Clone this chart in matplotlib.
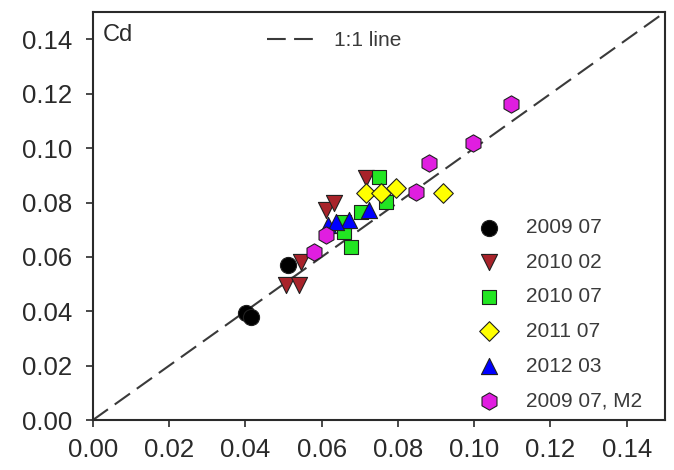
import numpy as np
import matplotlib
matplotlib.use('Agg')
import matplotlib.pyplot as plt

plt.rcParams['font.family'] = ['Liberation Sans', 'DejaVu Sans']

# Cd: x vs y for each sampling campaign
x_2009_07 = [0.0401, 0.0414, 0.0511]
y_2009_07 = [0.0394, 0.0380, 0.0571]

x_2010_02 = [0.0506, 0.0540, 0.0545, 0.0612, 0.0632, 0.0717]
y_2010_02 = [0.0497, 0.0497, 0.0580, 0.0774, 0.0800, 0.0892]

x_2010_07 = [0.0751, 0.0769, 0.0703, 0.0659, 0.0677, 0.0659]
y_2010_07 = [0.0895, 0.0803, 0.0766, 0.0730, 0.0637, 0.0693]

x_2011_07 = [0.0717, 0.0756, 0.0796, 0.0919]
y_2011_07 = [0.0836, 0.0836, 0.0855, 0.0836]

x_2012_03 = [0.0724, 0.0672, 0.0617, 0.0638]
y_2012_03 = [0.0774, 0.0737, 0.0718, 0.0730]

x_m2 = [0.0611, 0.0580, 0.0848, 0.0882, 0.0998, 0.1096]
y_m2 = [0.0682, 0.0619, 0.0840, 0.0947, 0.1020, 0.1164]

labels = ['2009 07', '2010 02', '2010 07', '2011 07', '2012 03', '2009 07, M2']
xs = [x_2009_07, x_2010_02, x_2010_07, x_2011_07, x_2012_03, x_m2]
ys = [y_2009_07, y_2010_02, y_2010_07, y_2011_07, y_2012_03, y_m2]
markers = ['o', 'v', 's', 'D', '^', 'h']
colors = ['#000000', '#a8232a', '#22e622', '#ffff00', '#0000ff', '#e01ee0']
sizes = [135, 135, 110, 100, 135, 155]

ticks = [0.00, 0.02, 0.04, 0.06, 0.08, 0.10, 0.12, 0.14]

fig = plt.figure(figsize=(6.74, 4.70), dpi=100)
ax = fig.add_axes([0.1375, 0.106, 0.849, 0.868])

lims = [0, 0.15]
line11, = ax.plot(lims, lims, color='#3a3a3a', lw=1.5, dashes=(9, 4), zorder=1)

handles = []
for xv, yv, mk, c, s, lb in zip(xs, ys, markers, colors, sizes, labels):
    h = ax.scatter(xv, yv, marker=mk, s=s, c=c, edgecolors='#202020',
                   linewidths=0.8, label=lb, zorder=3)
    handles.append(h)

ax.set_xlim(lims)
ax.set_ylim(lims)
ax.set_xticks(ticks)
ax.set_yticks(ticks)
ax.set_xticklabels([f'{t:.2f}' for t in ticks])
ax.set_yticklabels([f'{t:.2f}' for t in ticks])
ax.tick_params(axis='both', direction='out', length=5, width=1.2,
               labelsize=18.5, labelcolor='#2a2a2a', color='#2a2a2a')
ax.tick_params(axis='x', pad=8)
ax.tick_params(axis='y', pad=10)
for sp in ax.spines.values():
    sp.set_linewidth(1.5)
    sp.set_color('#2a2a2a')

ax.text(0.018, 0.972, 'Cd', transform=ax.transAxes, fontsize=17,
        color='#2a2a2a', va='top', ha='left')

leg1 = ax.legend([line11], ['1:1 line'], loc='center left',
                 bbox_to_anchor=(0.305, 0.931), frameon=False, fontsize=15,
                 handlelength=2.5, handletextpad=0.7, borderpad=0,
                 borderaxespad=0, labelcolor='#3a3a3a')
ax.add_artist(leg1)

ax.legend(handles=handles, loc='center left', bbox_to_anchor=(0.675, 0.26),
          frameon=False, fontsize=15, handlelength=1.0, handletextpad=1.25,
          labelspacing=0.75, borderpad=0, borderaxespad=0,
          labelcolor='#3a3a3a', scatterpoints=1)

fig.savefig('out.png', dpi=100)
